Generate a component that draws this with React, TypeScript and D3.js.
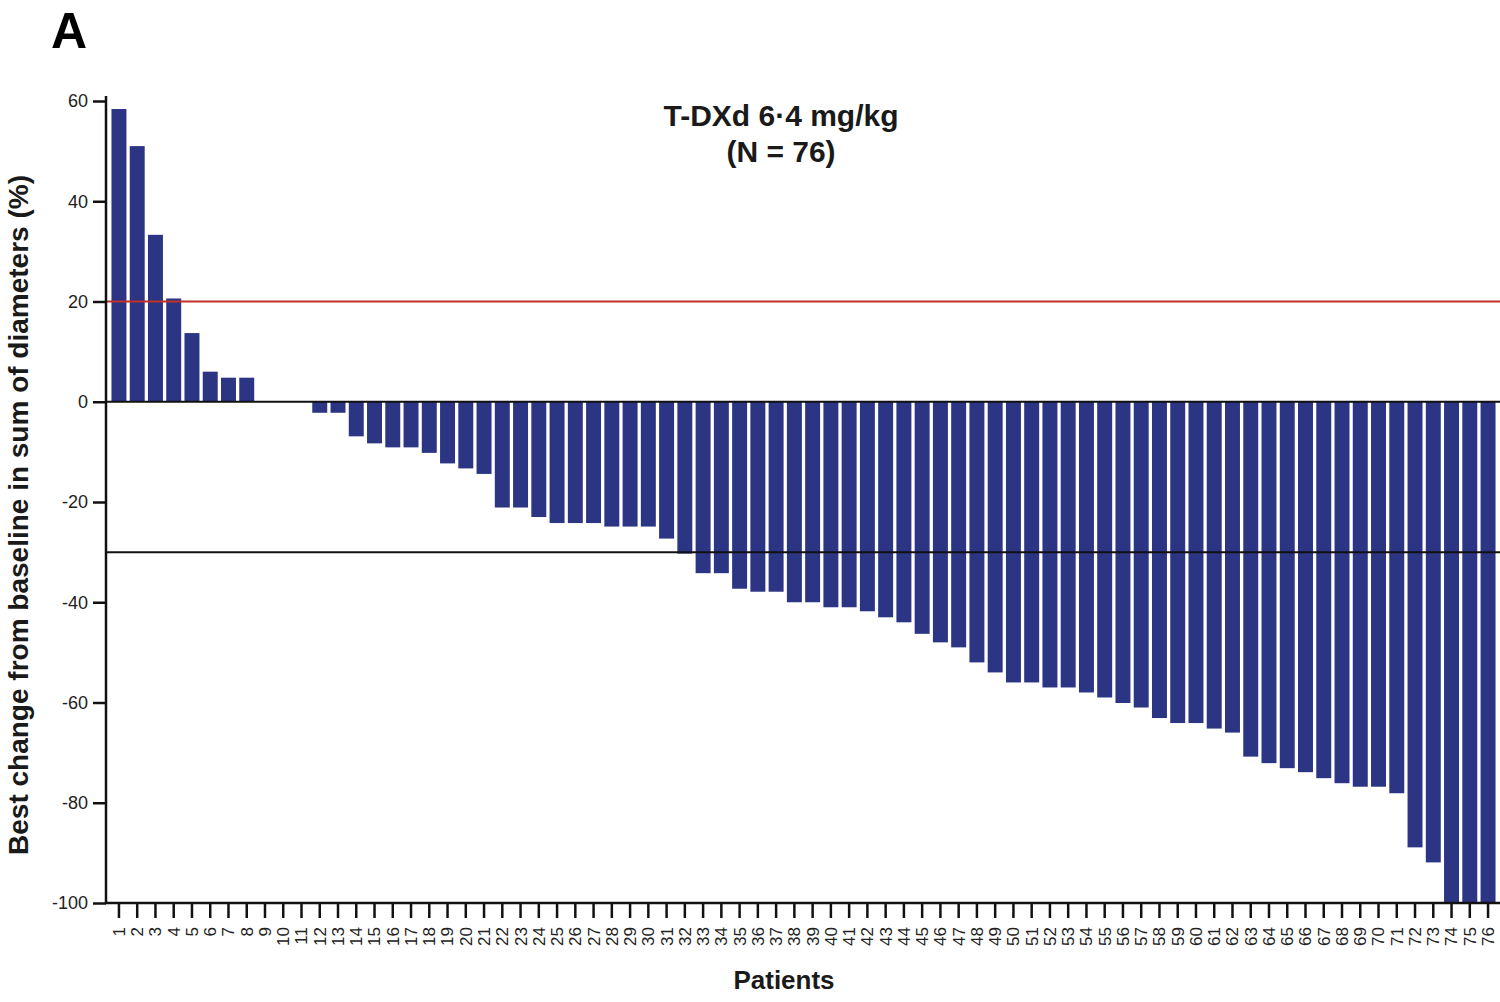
import * as d3 from "d3";
import React from "react";

// best % change from baseline, patients sorted descending
const patients: string[] = Array.from({ length: 76 }, (_, i) => String(i + 1));
const bestChange: number[] = [
  58.4, 51, 33.3, 20.6, 13.7, 6, 4.8, 4.8, 0, 0,
  0, -2.2, -2.2, -6.9, -8.3, -9.1, -9.1, -10.2, -12.3, -13.3,
  -14.4, -21.1, -21.1, -23, -24.2, -24.2, -24.2, -24.9, -24.9, -24.9,
  -27.3, -30.3, -34.2, -34.2, -37.3, -37.9, -37.9, -40, -40, -41,
  -41, -41.8, -43, -44, -46.3, -48, -49, -52, -54, -56,
  -56, -57, -57, -58, -59, -60.1, -61, -63.1, -64.1, -64.1,
  -65.2, -66, -70.8, -72.1, -73.1, -73.9, -75.1, -76.1, -76.8, -76.8,
  -78.1, -88.9, -91.9, -100, -100, -100,
];
const yTicks: number[] = [60, 40, 20, 0, -20, -40, -60, -80, -100];
const progressionLine = 20;
const responseLine = -30;

const FONT = "'Liberation Sans', Arial, Helvetica, sans-serif";

export default function App() {
  const ref = React.useRef<SVGSVGElement>(null);

  React.useEffect(() => {
    if (!ref.current) return;
    const svg = d3.select(ref.current);
    svg.selectAll("*").remove();

    const axisX = 106;
    const rightEdge = 1500;

    const x = d3
      .scaleBand<string>()
      .domain(patients)
      .range([108, 1499])
      .paddingInner(0.18)
      .paddingOuter(0.19);

    const y = d3.scaleLinear().domain([-100, 60]).range([903, 101]);

    // bars
    svg
      .append("g")
      .selectAll("rect")
      .data(bestChange.map((v, i) => ({ id: patients[i], v })))
      .enter()
      .filter((d) => d.v !== 0)
      .append("rect")
      .attr("x", (d) => x(d.id) || 0)
      .attr("y", (d) => Math.min(y(d.v), y(0)))
      .attr("width", x.bandwidth())
      .attr("height", (d) => Math.abs(y(d.v) - y(0)))
      .attr("fill", "#2b3584");

    // reference lines
    svg
      .append("line")
      .attr("x1", axisX)
      .attr("x2", rightEdge)
      .attr("y1", y(progressionLine))
      .attr("y2", y(progressionLine))
      .attr("stroke", "#c0302b")
      .attr("stroke-width", 2);
    svg
      .append("line")
      .attr("x1", axisX)
      .attr("x2", rightEdge)
      .attr("y1", y(responseLine))
      .attr("y2", y(responseLine))
      .attr("stroke", "#111")
      .attr("stroke-width", 2);
    svg
      .append("line")
      .attr("x1", axisX)
      .attr("x2", rightEdge)
      .attr("y1", y(0))
      .attr("y2", y(0))
      .attr("stroke", "#111")
      .attr("stroke-width", 2);

    // y axis
    const yAxis = svg
      .append("g")
      .attr("transform", `translate(${axisX},0)`)
      .call(
        d3
          .axisLeft(y)
          .tickValues(yTicks)
          .tickSize(13)
          .tickPadding(5)
          .tickFormat((d) => String(d))
      );
    yAxis.select(".domain").remove();
    yAxis.selectAll("line").attr("stroke", "#111").attr("stroke-width", 2.5);
    yAxis
      .selectAll("text")
      .attr("font-family", FONT)
      .attr("font-size", 18)
      .attr("fill", "#222");
    svg
      .append("line")
      .attr("x1", axisX)
      .attr("x2", axisX)
      .attr("y1", y(61))
      .attr("y2", y(-100))
      .attr("stroke", "#111")
      .attr("stroke-width", 2.5);

    // x axis
    const xAxis = svg
      .append("g")
      .attr("transform", `translate(0,${y(-100)})`)
      .call(d3.axisBottom(x).tickSize(15).tickSizeOuter(0));
    xAxis.select(".domain").remove();
    xAxis.selectAll("line").attr("stroke", "#111").attr("stroke-width", 2.5);
    xAxis
      .selectAll("text")
      .attr("font-family", FONT)
      .attr("font-size", 17)
      .attr("fill", "#222")
      .attr("transform", "rotate(-90)")
      .attr("x", -24)
      .attr("y", 0)
      .attr("dy", "0.35em")
      .style("text-anchor", "end");
    svg
      .append("line")
      .attr("x1", axisX - 1)
      .attr("x2", rightEdge)
      .attr("y1", y(-100))
      .attr("y2", y(-100))
      .attr("stroke", "#111")
      .attr("stroke-width", 2.5);

    // titles
    const title = svg
      .append("text")
      .attr("font-family", FONT)
      .attr("font-weight", "bold")
      .attr("font-size", 30)
      .attr("fill", "#1a1a1a")
      .attr("text-anchor", "middle");
    title.append("tspan").attr("x", 781).attr("y", 126).text("T-DXd 6·4 mg/kg");
    title.append("tspan").attr("x", 781).attr("y", 162).text("(N = 76)");

    svg
      .append("text")
      .attr("transform", "translate(28,515) rotate(-90)")
      .attr("font-family", FONT)
      .attr("font-weight", "bold")
      .attr("font-size", 28)
      .attr("fill", "#1a1a1a")
      .attr("text-anchor", "middle")
      .text("Best change from baseline in sum of diameters (%)");

    svg
      .append("text")
      .attr("x", 784)
      .attr("y", 989)
      .attr("font-family", FONT)
      .attr("font-weight", "bold")
      .attr("font-size", 26)
      .attr("fill", "#1a1a1a")
      .attr("text-anchor", "middle")
      .text("Patients");

    svg
      .append("text")
      .attr("x", 51)
      .attr("y", 48)
      .attr("font-family", FONT)
      .attr("font-weight", "bold")
      .attr("font-size", 50)
      .attr("fill", "#000")
      .text("A");
  }, []);

  return (
    <svg
      ref={ref}
      width={1500}
      height={1002}
      style={{ position: "absolute", left: 0, top: 0, background: "#fff" }}
    />
  );
}
